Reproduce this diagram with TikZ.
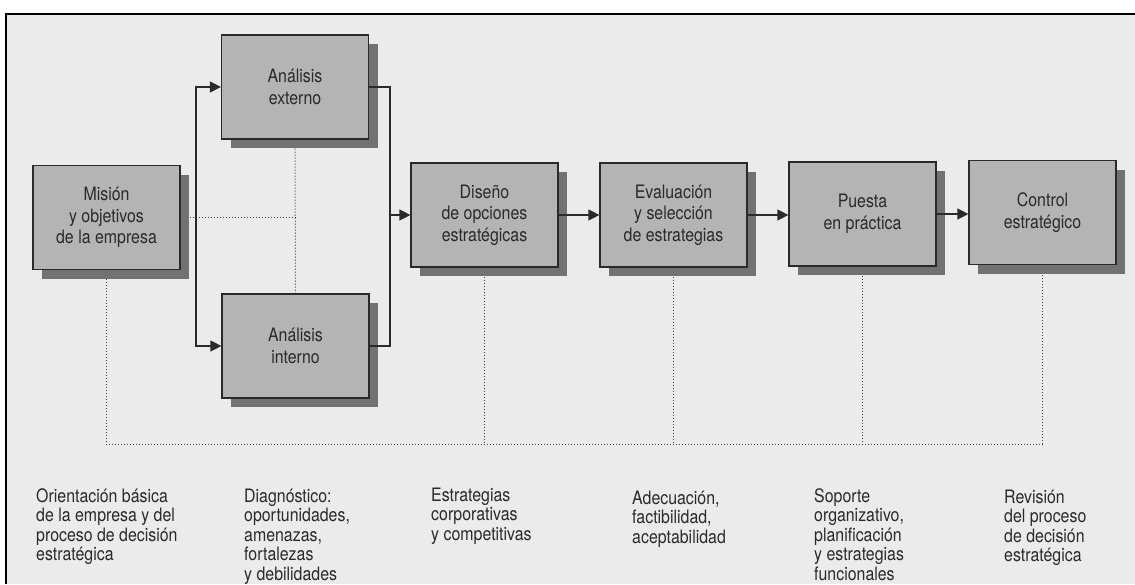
\documentclass[tikz,border=0pt]{standalone}
\usepackage{fontspec}
\setmainfont[FakeStretch=0.86]{TeX Gyre Heros}
\usepackage{tikz}
\usetikzlibrary{backgrounds}
\usetikzlibrary{shadows}
\usetikzlibrary{arrows.meta}
\definecolor{paper}{HTML}{EBEBEB}
\definecolor{boxgray}{HTML}{B4B4B4}
\definecolor{shadegray}{HTML}{727272}
\definecolor{inkgray}{HTML}{2A2A2A}
\newcommand{\pasow}{147pt}
\newcommand{\pasoh}{104pt}
\newcommand{\sombra}{9pt}
\newcommand{\boxfont}{\fontsize{18.5}{21.7}\selectfont}
\newcommand{\notafont}{\fontsize{18.5}{19.5}\selectfont}

\begin{document}
\begin{tikzpicture}[x=1pt,y=-1pt,
    pasobox/.style={draw=inkgray,line width=1.2pt,fill=boxgray,
      minimum width=\pasow,minimum height=\pasoh,inner sep=0pt,
      align=center,font=\boxfont,text=inkgray,
      drop shadow={shadow xshift=\sombra,shadow yshift=-\sombra,
        fill=shadegray,opacity=1}},
    flecha/.style={draw=inkgray,line width=1.3pt,
      -{Triangle[length=11pt,width=11pt]}},
    linea/.style={draw=inkgray,line width=1.3pt},
    puntos/.style={draw=black!75,line width=1pt,
      dash pattern=on 1pt off 2pt},
    nota/.style={anchor=base west,inner sep=0pt,align=left,
      font=\notafont,text=inkgray}]
  \useasboundingbox (0,0) rectangle (1135,584);

  \node[pasobox] (mision) at (106.5,217.5) {Misión\\y objetivos\\de la empresa};
  \node[pasobox] (externo) at (295,87) {Análisis\\externo};
  \node[pasobox] (interno) at (295.5,346) {Análisis\\interno};
  \node[pasobox] (diseno) at (484.5,215) {Diseño\\de opciones\\estratégicas};
  \node[pasobox] (evaluacion) at (673.5,215) {Evaluación\\y selección\\de estrategias};
  \node[pasobox] (puesta) at (862.5,214) {Puesta\\en práctica};
  \node[pasobox] (control) at (1042.5,212.5) {Control\\estratégico};

  \coordinate (abre) at (196,215);
  \coordinate (cierra) at (390,215);
  \coordinate (bus) at (0,444);

  \draw[flecha] (abre) |- (externo.west);
  \draw[flecha] (abre) |- (interno.west);
  \draw[linea] (externo.east) -| (cierra);
  \draw[linea] (interno.east) -| (cierra);
  \draw[flecha] (cierra) -- (diseno.west);
  \draw[flecha] (diseno.east) -- (evaluacion.west);
  \draw[flecha] (evaluacion.east) -- (evaluacion.east -| puesta.west);
  \draw[flecha] (puesta.east) -- (puesta.east -| control.west);

  % base = baseline of the last line
  \node[nota] (nmision) at (36,560.5) {Orientación básica\\de la empresa y del\\proceso de decisión\\estratégica};
  \node[nota] (nexterno) at (244,580) {Diagnóstico:\\oportunidades,\\amenazas,\\fortalezas\\y debilidades};
  \node[nota] (ndiseno) at (431,540) {Estrategias\\corporativas\\y competitivas};
  \node[nota] (nevaluacion) at (632,543) {Adecuación,\\factibilidad,\\aceptabilidad};
  \node[nota] (npuesta) at (814,580) {Soporte\\organizativo,\\planificación\\y estrategias\\funcionales};
  \node[nota] (ncontrol) at (1004,561.5) {Revisión\\del proceso\\de decisión\\estratégica};

  \begin{scope}[on background layer]
    \fill[white] (0,0) rectangle (1135,584);
    \fill[paper] (6,14) rectangle (1135,584);
    \draw[black,line width=2pt] (6,584) -- (6,14) -- (1135,14);
    \draw[puntos] (mision.east) -- (mision.east -| externo.south);
    \draw[puntos] (externo.south) -- (interno.north);
    \draw[puntos] ([xshift=-0.5pt]mision.south) |- (control.south |- bus)
      -- (control.south);
    \foreach \paso in {diseno,evaluacion,puesta}
      \draw[puntos] (\paso.south) -- (\paso.south |- bus);
  \end{scope}
\end{tikzpicture}
\end{document}
